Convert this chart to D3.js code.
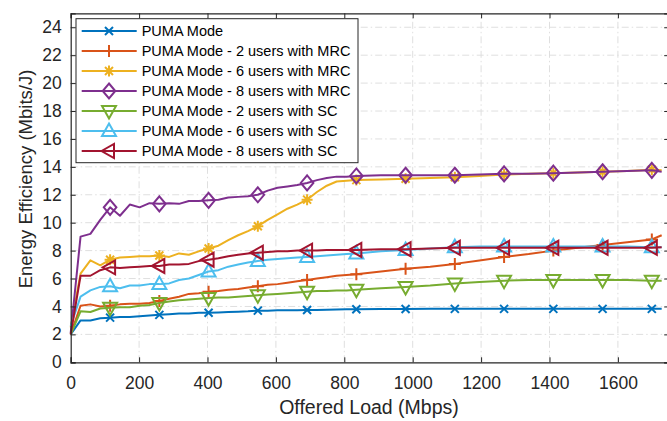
<!DOCTYPE html>
<html>
<head>
<meta charset="utf-8">
<script src="https://cdn.jsdelivr.net/npm/d3@7"></script>
<style>
    body { margin: 0; background: #fff; }
    svg { display: block; font-family: "Liberation Sans", Arial, Helvetica, sans-serif; }
</style>
</head>
<body>
<div id="chart"></div>
<script>
// offered load samples (Mbps)
const offeredLoad = [0, 28.8, 57.6, 86.4, 115.2, 144, 172.8, 201.6, 230.4, 259.2, 288, 316.8, 345.6, 374.4, 403.2,
    432, 460.8, 489.6, 518.4, 547.2, 576, 604.8, 633.6, 662.4, 691.2, 720, 748.8, 777.6, 806.4, 835.2,
    907.2, 979.2, 1051.2, 1123.2, 1195.2, 1267.2, 1339.2, 1411.2, 1483.2, 1555.2, 1627.2, 1699.2, 1728];

// loads where a marker is drawn
const markerLoad = [115.2, 259.2, 403.2, 547.2, 691.2, 835.2, 979.2, 1123.2, 1267.2, 1411.2, 1555.2, 1699.2];

const seriesNames = [
    "PUMA Mode",
    "PUMA Mode - 2 users with MRC",
    "PUMA Mode - 6 users with MRC",
    "PUMA Mode - 8 users with MRC",
    "PUMA Mode - 2 users with SC",
    "PUMA Mode - 6 users with SC",
    "PUMA Mode - 8 users with SC"
];

const pumaMode = [2.0, 3.0, 3.0, 3.15, 3.2, 3.25, 3.25, 3.3, 3.35, 3.4, 3.45, 3.5, 3.5, 3.55, 3.55,
    3.57, 3.6, 3.62, 3.65, 3.7, 3.7, 3.72, 3.72, 3.73, 3.75, 3.75, 3.77, 3.78, 3.8, 3.8,
    3.82, 3.82, 3.83, 3.83, 3.83, 3.83, 3.83, 3.83, 3.83, 3.83, 3.83, 3.83, 3.83];

const mrc2 = [2.0, 4.05, 4.15, 4.0, 4.05, 4.15, 4.2, 4.2, 4.25, 4.4, 4.55, 4.7, 4.9, 4.95, 5.05,
    5.1, 5.2, 5.25, 5.35, 5.45, 5.55, 5.6, 5.7, 5.8, 5.9, 6.0, 6.1, 6.2, 6.25, 6.3,
    6.5, 6.7, 6.85, 7.05, 7.3, 7.55, 7.75, 8.0, 8.2, 8.4, 8.6, 8.8, 9.1];

const mrc6 = [2.5, 6.35, 7.3, 6.95, 7.35, 7.5, 7.55, 7.6, 7.6, 7.65, 7.55, 7.8, 7.7, 7.95, 8.15,
    8.35, 8.75, 9.1, 9.4, 9.75, 10.2, 10.6, 11.0, 11.3, 11.65, 12.2, 12.65, 12.95, 13.0, 13.05,
    13.1, 13.15, 13.2, 13.25, 13.35, 13.45, 13.5, 13.55, 13.6, 13.65, 13.7, 13.8, 13.75];

const mrc8 = [2.1, 9.0, 9.2, 10.2, 11.1, 10.5, 11.3, 11.1, 11.4, 11.35, 11.4, 11.35, 11.55, 11.55, 11.6,
    11.65, 11.8, 11.85, 11.9, 12.0, 12.3, 12.5, 12.6, 12.7, 12.85, 13.05, 13.2, 13.3, 13.3, 13.35,
    13.4, 13.4, 13.4, 13.4, 13.45, 13.5, 13.5, 13.55, 13.6, 13.65, 13.7, 13.75, 13.65];

const sc2 = [2.0, 3.65, 3.6, 3.85, 3.9, 3.95, 3.95, 4.05, 4.1, 4.25, 4.35, 4.45, 4.5, 4.55, 4.6,
    4.65, 4.65, 4.7, 4.75, 4.8, 4.85, 4.9, 4.95, 5.0, 5.05, 5.1, 5.1, 5.15, 5.15, 5.2,
    5.3, 5.4, 5.5, 5.65, 5.75, 5.85, 5.9, 5.9, 5.9, 5.9, 5.9, 5.85, 5.85];

const sc6 = [2.6, 4.7, 5.15, 5.4, 5.45, 5.3, 5.5, 5.5, 5.6, 5.6, 5.65, 5.9, 6.0, 6.25, 6.5,
    6.6, 6.85, 7.0, 7.15, 7.25, 7.35, 7.4, 7.45, 7.5, 7.55, 7.6, 7.65, 7.7, 7.75, 7.8,
    7.95, 8.05, 8.15, 8.25, 8.3, 8.3, 8.3, 8.3, 8.3, 8.3, 8.3, 8.25, 8.25];

const sc8 = [2.0, 6.2, 6.2, 6.6, 6.8, 6.75, 6.8, 6.85, 6.9, 6.9, 7.0, 7.0, 7.05, 7.25, 7.35,
    7.45, 7.6, 7.7, 7.8, 7.85, 7.9, 7.95, 7.95, 8.0, 8.0, 8.0, 8.05, 8.05, 8.05, 8.05,
    8.1, 8.1, 8.15, 8.2, 8.2, 8.2, 8.2, 8.2, 8.2, 8.2, 8.2, 8.2, 8.25];

const xTicks = [0, 200, 400, 600, 800, 1000, 1200, 1400, 1600];
const yTicks = [0, 2, 4, 6, 8, 10, 12, 14, 16, 18, 20, 22, 24];


const width = 667;
const height = 421;
const margin = {top: 13.3, right: -2.2, bottom: 58.7, left: 70.7};

const colors = ["#0072BD", "#D95319", "#EDB120", "#7E2F8E", "#77AC30", "#4DBEEE", "#A2142F"];
const markers = ["x", "plus", "star", "diamond", "triDown", "triUp", "triLeft"];
const allValues = [pumaMode, mrc2, mrc6, mrc8, sc2, sc6, sc8];

const series = seriesNames.map((name, i) => ({
    name: name,
    color: colors[i],
    marker: markers[i],
    points: offeredLoad.map((x, j) => ({x: x, y: allValues[i][j]}))
}));

// marker shapes, centred on 0,0
function markerPath(type) {
    switch (type) {
        case "x": return "M-4,-4L4,4M-4,4L4,-4";
        case "plus": return "M-6,0H6M0,-6V6";
        case "star": return "M-5.5,0H5.5M0,-5.5V5.5M-4,-4L4,4M-4,4L4,-4";
        case "diamond": return "M0,-7.5L6.3,0L0,7.5L-6.3,0Z";
        case "triDown": return "M0,7.5L7,-5L-7,-5Z";
        case "triUp": return "M0,-7.5L7,5L-7,5Z";
        case "triLeft": return "M-7.5,0L5,-7L5,7Z";
    }
}

const svg = d3.select('#chart')
    .append('svg')
    .attr('width', width)
    .attr('height', height);

const xScale = d3.scaleLinear()
    .domain([0, 1750])
    .range([margin.left, width - margin.right]);

const yScale = d3.scaleLinear()
    .domain([0, 25])
    .range([height - margin.bottom, margin.top]);

const axisColor = "#262626";

// grid
svg.append('g')
    .selectAll('line')
    .data(xTicks.slice(1))
    .enter()
    .append('line')
    .attr('x1', d => xScale(d)).attr('x2', d => xScale(d))
    .attr('y1', yScale(0)).attr('y2', yScale(25))
    .attr('stroke', '#dfdfdf')
    .attr('stroke-dasharray', '7,3,1.5,3');

svg.append('g')
    .selectAll('line')
    .data(yTicks.slice(1))
    .enter()
    .append('line')
    .attr('x1', xScale(0)).attr('x2', xScale(1750))
    .attr('y1', d => yScale(d)).attr('y2', d => yScale(d))
    .attr('stroke', '#dfdfdf')
    .attr('stroke-dasharray', '7,3,1.5,3');

// lines and markers
const line = d3.line()
    .x(d => xScale(d.x))
    .y(d => yScale(d.y));

series.forEach(s => {
    svg.append('path')
        .datum(s.points)
        .attr('fill', 'none')
        .attr('stroke', s.color)
        .attr('stroke-width', 2)
        .attr('stroke-linejoin', 'round')
        .attr('d', line);

    svg.append('g')
        .selectAll('path')
        .data(s.points.filter(p => markerLoad.includes(p.x)))
        .enter()
        .append('path')
        .attr('transform', d => `translate(${xScale(d.x)},${yScale(d.y)})`)
        .attr('d', markerPath(s.marker))
        .attr('fill', 'none')
        .attr('stroke', s.color)
        .attr('stroke-width', 2);
});

// axes
const xAxis = d3.axisBottom(xScale).tickValues(xTicks).tickSize(-5).tickPadding(14.5).tickFormat(d3.format('d'));
const yAxis = d3.axisLeft(yScale).tickValues(yTicks).tickSize(-5).tickPadding(9).tickFormat(d3.format('d'));

svg.append('g')
    .attr('transform', `translate(0, ${yScale(0)})`)
    .call(xAxis);
svg.append('g')
    .attr('transform', `translate(${xScale(0)}, 0)`)
    .call(yAxis);

svg.append('g')
    .attr('transform', `translate(0, ${yScale(25)})`)
    .call(d3.axisTop(xScale).tickValues(xTicks).tickSize(-5).tickFormat(''));
svg.append('g')
    .attr('transform', `translate(${xScale(1750)}, 0)`)
    .call(d3.axisRight(yScale).tickValues(yTicks).tickSize(-5).tickFormat(''));

svg.selectAll('.domain').attr('stroke', axisColor).attr('stroke-width', 1.2);
svg.selectAll('.tick line').attr('stroke', axisColor);
svg.selectAll('.tick text')
    .attr('fill', axisColor)
    .style('font-size', '17.5px')
    .style('font-family', '"Liberation Sans", Arial, sans-serif');

// axis titles
svg.append('text')
    .attr('x', 369)
    .attr('y', 414)
    .attr('text-anchor', 'middle')
    .attr('fill', axisColor)
    .style('font-size', '19.5px')
    .text('Offered Load (Mbps)');

svg.append('text')
    .attr('transform', 'translate(32, 179) rotate(-90)')
    .attr('text-anchor', 'middle')
    .attr('fill', axisColor)
    .style('font-size', '18.5px')
    .text('Energy Efficiency (Mbits/J)');

// legend
const legend = svg.append('g');
legend.append('rect')
    .attr('x', 76).attr('y', 18.7)
    .attr('width', 282).attr('height', 144)
    .attr('fill', '#fff')
    .attr('stroke', axisColor)
    .attr('stroke-width', 1);

series.forEach((s, i) => {
    const y = 31 + i * 20;
    legend.append('line')
        .attr('x1', 81.7).attr('x2', 136.7)
        .attr('y1', y).attr('y2', y)
        .attr('stroke', s.color)
        .attr('stroke-width', 2);
    legend.append('path')
        .attr('transform', `translate(109, ${y})`)
        .attr('d', markerPath(s.marker))
        .attr('fill', 'none')
        .attr('stroke', s.color)
        .attr('stroke-width', 2);
    legend.append('text')
        .attr('x', 141.7)
        .attr('y', y)
        .attr('dy', '0.35em')
        .attr('fill', '#000')
        .style('font-size', '14.5px')
        .text(s.name);
});
</script>
</body>
</html>
